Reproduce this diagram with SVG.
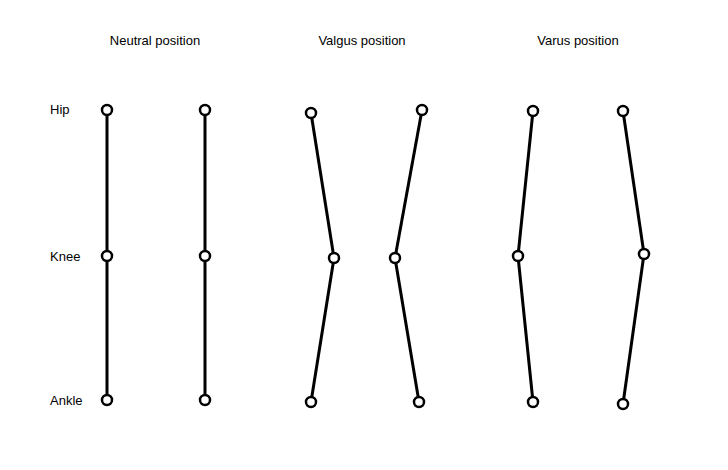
<svg xmlns="http://www.w3.org/2000/svg" width="728" height="470" viewBox="0 0 728 470">
<style>
text{font-family:"Liberation Sans",Arial,sans-serif;font-size:13px;fill:#000}
.t{text-anchor:middle}
line{stroke:#000;stroke-width:3}
circle{fill:#fff;stroke:#000;stroke-width:2.5}
</style>
<rect width="728" height="470" fill="#fff"/>
<g id="labels">
<text class="t" x="155" y="45">Neutral position</text>
<text class="t" x="362" y="45">Valgus position</text>
<text class="t" x="578" y="45">Varus position</text>
<text x="50" y="114">Hip</text>
<text x="50" y="261">Knee</text>
<text x="50" y="405">Ankle</text>
</g>
<g id="connectors">
<line x1="107" y1="110" x2="107" y2="256"/><line x1="107" y1="256" x2="107" y2="400"/>
<line x1="205" y1="110" x2="205" y2="256"/><line x1="205" y1="256" x2="205" y2="400"/>
<line x1="311" y1="113" x2="334" y2="258"/><line x1="334" y1="258" x2="311" y2="402"/>
<line x1="422" y1="110" x2="395" y2="258"/><line x1="395" y1="258" x2="419" y2="402"/>
<line x1="533" y1="111" x2="518" y2="256"/><line x1="518" y1="256" x2="533" y2="402"/>
<line x1="623" y1="111" x2="644" y2="254"/><line x1="644" y1="254" x2="623" y2="404"/>
</g>
<g id="n1"><circle cx="107" cy="110" r="5"/><circle cx="107" cy="256" r="5"/><circle cx="107" cy="400" r="5"/></g>
<g id="n2"><circle cx="205" cy="110" r="5"/><circle cx="205" cy="256" r="5"/><circle cx="205" cy="400" r="5"/></g>
<g id="n3"><circle cx="311" cy="113" r="5"/><circle cx="334" cy="258" r="5"/><circle cx="311" cy="402" r="5"/></g>
<g id="n4"><circle cx="422" cy="110" r="5"/><circle cx="395" cy="258" r="5"/><circle cx="419" cy="402" r="5"/></g>
<g id="n5"><circle cx="533" cy="111" r="5"/><circle cx="518" cy="256" r="5"/><circle cx="533" cy="402" r="5"/></g>
<g id="n6"><circle cx="623" cy="111" r="5"/><circle cx="644" cy="254" r="5"/><circle cx="623" cy="404" r="5"/></g>
</svg>
